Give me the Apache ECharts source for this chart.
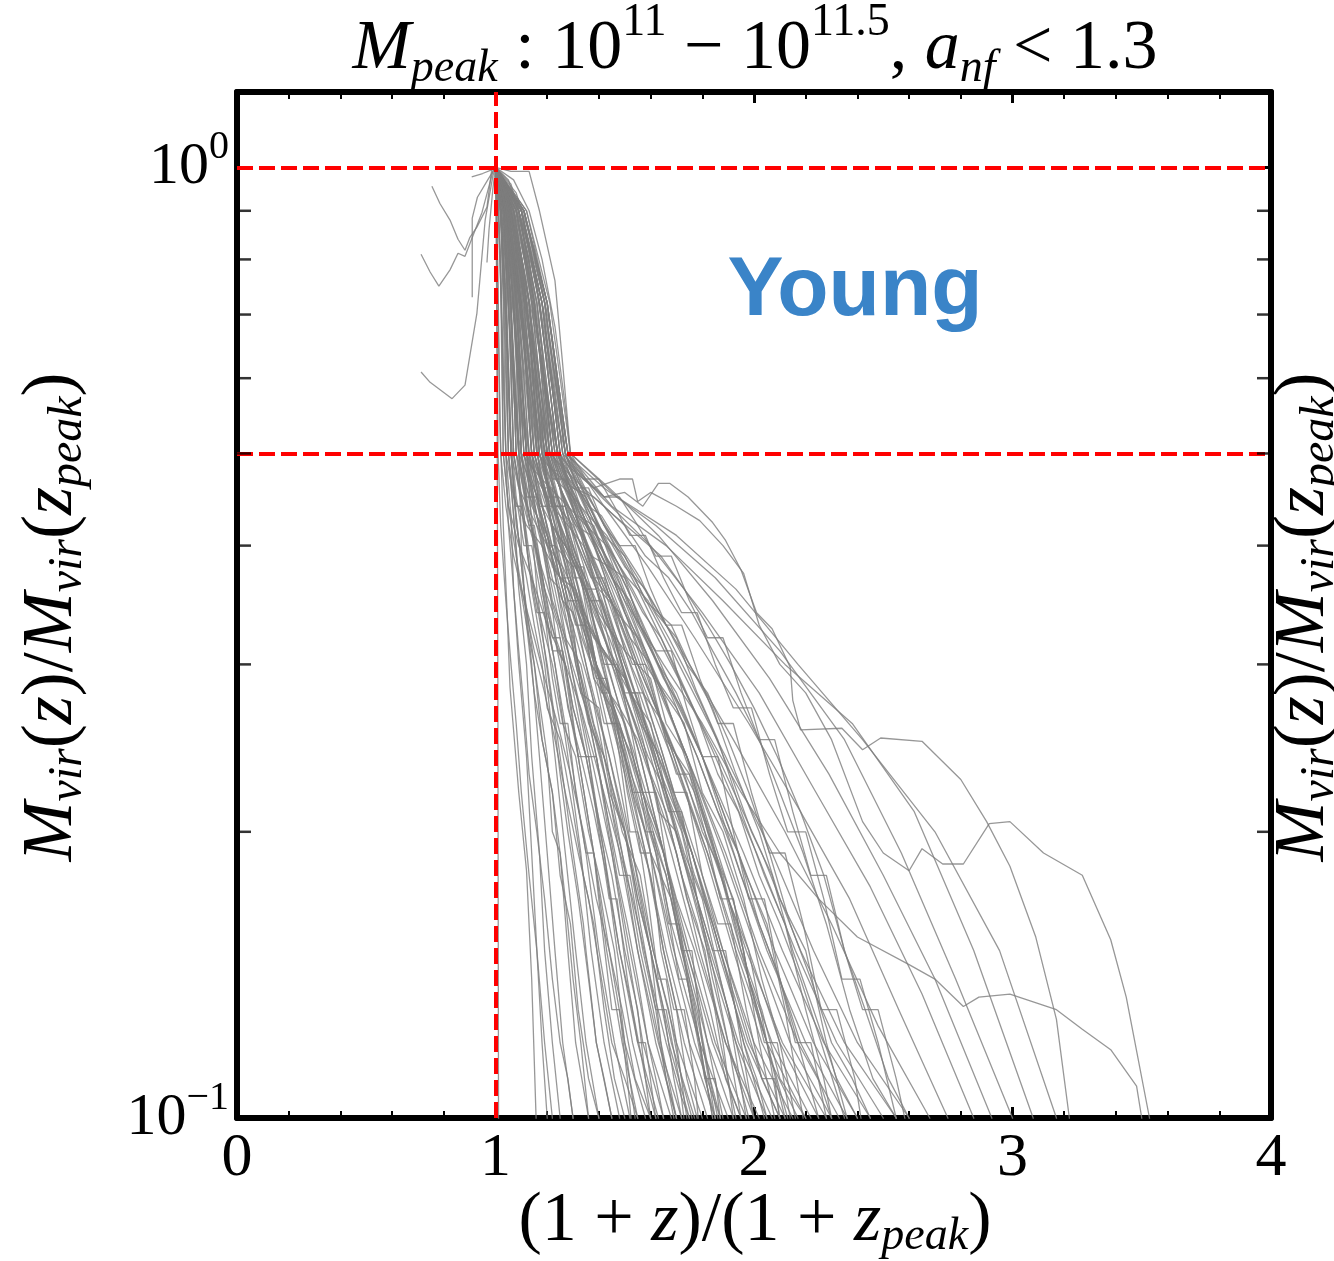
<!DOCTYPE html>
<html><head><meta charset="utf-8">
<script src="https://cdn.jsdelivr.net/npm/echarts@6/dist/echarts.min.js"></script>
<style>html,body{margin:0;padding:0;background:#fff;overflow:hidden}#c{width:1334px;height:1261px}</style>
</head><body><div id="c"></div>
<script>
// ---- axis / reference values ----
const xRange = [0, 4];
const yRange = [0.1, 1.2];
const yMinorTicks = [0.2, 0.3, 0.4, 0.5, 0.6, 0.7, 0.8, 0.9];
const refLinesY = [1, 0.5];
const refLinesX = [1];

// ---- curves: [x, y] with x=(1+z)/(1+z_peak), y=Mvir(z)/Mvir(z_peak) ----
const leftBranches = [
  [[0.754,0.955],[0.785,0.916],[0.824,0.88],[0.855,0.84],[0.882,0.818],[0.901,0.844],[0.928,0.865],[0.967,0.908],[0.986,0.998],[1,1]],
  [[0.712,0.81],[0.747,0.776],[0.781,0.75],[0.824,0.78],[0.855,0.812],[0.882,0.806],[0.948,0.897],[0.99,0.99],[1,1]],
  [[0.712,0.609],[0.747,0.594],[0.832,0.571],[0.882,0.59],[0.928,0.702],[0.96,0.88],[0.99,0.98],[1,1]],
  [[0.91,0.73],[0.91,0.884],[0.93,0.93],[0.97,0.97],[1,1]],
  [[0.967,0.794],[0.975,0.86],[0.99,0.95],[1,1]],
  [[0.908,0.977],[0.95,0.985],[0.99,0.995],[1,1]]
];

const steepCurves = [
  [[1,1],[1.003,0.85],[1.006,0.6],[1.009,0.3],[1.012,0.09]],
  [[1,1],[1.005,0.9],[1.01,0.7],[1.017,0.54],[1.03,0.42],[1.045,0.34],[1.056,0.284],[1.09,0.22],[1.12,0.182],[1.14,0.14],[1.157,0.1],[1.16,0.085]],
  [[1,1],[1.02,0.9],[1.03,0.72],[1.04,0.5],[1.06,0.43],[1.07,0.36],[1.09,0.3],[1.12,0.24],[1.14,0.19],[1.16,0.15],[1.18,0.12],[1.2,0.1],[1.21,0.08]],
  [[1,1],[1.02,0.9],[1.035,0.72],[1.05,0.5],[1.07,0.43],[1.09,0.36],[1.12,0.3],[1.14,0.24],[1.17,0.19],[1.19,0.15],[1.22,0.12],[1.25,0.1],[1.26,0.08]],
  [[1,1],[1.02,0.9],[1.04,0.72],[1.06,0.5],[1.08,0.43],[1.11,0.36],[1.14,0.3],[1.17,0.24],[1.2,0.19],[1.23,0.15],[1.26,0.12],[1.3,0.1],[1.31,0.08]],
  [[1,1],[1.02,0.9],[1.04,0.72],[1.05,0.5],[1.08,0.43],[1.11,0.36],[1.15,0.3],[1.2,0.24],[1.22,0.2],[1.25,0.19],[1.28,0.15],[1.31,0.12],[1.36,0.1],[1.37,0.08]],
  [[1,1],[1.03,0.9],[1.06,0.72],[1.08,0.5],[1.11,0.43],[1.14,0.36],[1.19,0.3],[1.23,0.24],[1.27,0.19],[1.31,0.15],[1.35,0.12],[1.4,0.1],[1.41,0.08]],
  [[1,1],[1.03,0.9],[1.05,0.72],[1.07,0.5],[1.11,0.43],[1.15,0.36],[1.2,0.3],[1.25,0.24],[1.3,0.19],[1.34,0.16],[1.35,0.15],[1.39,0.12],[1.45,0.1],[1.46,0.08]],
  [[1,1],[1.04,0.9],[1.07,0.72],[1.1,0.5],[1.14,0.43],[1.18,0.36],[1.23,0.3],[1.28,0.24],[1.33,0.19],[1.37,0.15],[1.42,0.12],[1.48,0.1],[1.49,0.08]],
  [[1,1],[1.04,0.9],[1.06,0.72],[1.09,0.5],[1.13,0.43],[1.18,0.36],[1.23,0.3],[1.29,0.24],[1.35,0.19],[1.4,0.15],[1.46,0.12],[1.52,0.1],[1.53,0.08]],
  [[1,1],[1.05,0.9],[1.08,0.72],[1.12,0.5],[1.16,0.43],[1.21,0.36],[1.24,0.31],[1.27,0.3],[1.32,0.24],[1.38,0.19],[1.43,0.15],[1.49,0.12],[1.55,0.1],[1.56,0.08]],
  [[1,1],[1.03,0.9],[1.06,0.72],[1.08,0.5],[1.13,0.43],[1.19,0.36],[1.25,0.3],[1.32,0.24],[1.38,0.19],[1.44,0.15],[1.5,0.12],[1.58,0.1],[1.59,0.08]],
  [[1,1],[1.06,0.9],[1.1,0.72],[1.14,0.5],[1.19,0.43],[1.24,0.36],[1.29,0.3],[1.36,0.24],[1.42,0.19],[1.47,0.15],[1.53,0.12],[1.6,0.1],[1.61,0.08]],
  [[1,1],[1.04,0.9],[1.08,0.72],[1.11,0.5],[1.16,0.43],[1.22,0.36],[1.28,0.3],[1.35,0.24],[1.42,0.19],[1.48,0.15],[1.55,0.12],[1.63,0.1],[1.64,0.08]]
];

const bundleCurves = [
  [[1,1],[1.06,0.9],[1.11,0.72],[1.16,0.5],[1.21,0.43],[1.27,0.36],[1.32,0.3],[1.39,0.24],[1.45,0.19],[1.51,0.15],[1.57,0.12],[1.65,0.1],[1.66,0.08]],
  [[1,1],[1.04,0.9],[1.07,0.72],[1.1,0.5],[1.16,0.43],[1.23,0.36],[1.29,0.3],[1.37,0.24],[1.45,0.19],[1.52,0.15],[1.59,0.12],[1.68,0.1],[1.69,0.08]],
  [[1,1],[1.07,0.9],[1.13,0.72],[1.18,0.5],[1.23,0.43],[1.29,0.36],[1.35,0.3],[1.42,0.24],[1.49,0.19],[1.55,0.15],[1.62,0.12],[1.7,0.1],[1.71,0.08]],
  [[1,1],[1.05,0.9],[1.09,0.72],[1.13,0.5],[1.19,0.43],[1.26,0.36],[1.32,0.3],[1.41,0.24],[1.48,0.19],[1.55,0.15],[1.63,0.12],[1.72,0.1],[1.73,0.08]],
  [[1,1],[1.08,0.9],[1.14,0.72],[1.2,0.5],[1.26,0.43],[1.32,0.36],[1.38,0.3],[1.46,0.24],[1.53,0.19],[1.6,0.15],[1.67,0.12],[1.75,0.1],[1.76,0.08]],
  [[1,1],[1.06,0.9],[1.1,0.72],[1.15,0.5],[1.21,0.43],[1.28,0.36],[1.35,0.3],[1.44,0.24],[1.52,0.19],[1.6,0.15],[1.68,0.12],[1.77,0.1],[1.78,0.08]],
  [[1,1],[1.05,0.9],[1.08,0.72],[1.12,0.5],[1.19,0.43],[1.26,0.36],[1.34,0.3],[1.44,0.24],[1.53,0.19],[1.61,0.15],[1.7,0.12],[1.8,0.1],[1.81,0.08]],
  [[1,1],[1.09,0.9],[1.16,0.72],[1.22,0.5],[1.28,0.43],[1.35,0.36],[1.42,0.3],[1.5,0.24],[1.58,0.19],[1.65,0.15],[1.73,0.12],[1.82,0.1],[1.83,0.08]],
  [[1,1],[1.07,0.9],[1.12,0.72],[1.17,0.5],[1.24,0.43],[1.32,0.36],[1.39,0.3],[1.49,0.24],[1.58,0.19],[1.66,0.15],[1.75,0.12],[1.85,0.1],[1.86,0.08]],
  [[1,1],[1.07,0.9],[1.13,0.72],[1.19,0.5],[1.26,0.43],[1.34,0.36],[1.41,0.3],[1.51,0.24],[1.6,0.19],[1.68,0.15],[1.77,0.12],[1.87,0.1],[1.88,0.08]],
  [[1,1],[1.05,0.9],[1.1,0.72],[1.14,0.5],[1.22,0.43],[1.31,0.36],[1.39,0.3],[1.5,0.24],[1.6,0.19],[1.69,0.15],[1.79,0.12],[1.9,0.1],[1.91,0.08]],
  [[1,1],[1.1,0.9],[1.17,0.72],[1.24,0.5],[1.31,0.43],[1.39,0.36],[1.46,0.3],[1.56,0.24],[1.65,0.19],[1.73,0.15],[1.82,0.12],[1.92,0.1],[1.93,0.08]],
  [[1,1],[1.08,0.9],[1.15,0.72],[1.21,0.5],[1.28,0.43],[1.37,0.36],[1.45,0.3],[1.56,0.24],[1.65,0.19],[1.74,0.15],[1.84,0.12],[1.95,0.1],[1.96,0.08]],
  [[1,1],[1.06,0.9],[1.11,0.72],[1.16,0.5],[1.24,0.43],[1.34,0.36],[1.43,0.3],[1.54,0.24],[1.65,0.19],[1.75,0.15],[1.85,0.12],[1.97,0.1],[1.98,0.08]],
  [[1,1],[1.1,0.9],[1.18,0.72],[1.25,0.5],[1.32,0.43],[1.41,0.36],[1.49,0.3],[1.6,0.24],[1.7,0.19],[1.79,0.15],[1.89,0.12],[2.0,0.1],[2.01,0.08]],
  [[1,1],[1.07,0.9],[1.13,0.72],[1.18,0.5],[1.26,0.43],[1.36,0.36],[1.46,0.3],[1.58,0.24],[1.68,0.19],[1.78,0.15],[1.89,0.12],[2.02,0.1],[2.03,0.08]],
  [[1,1],[1.09,0.9],[1.16,0.72],[1.23,0.5],[1.31,0.43],[1.41,0.36],[1.5,0.3],[1.62,0.24],[1.72,0.19],[1.82,0.15],[1.93,0.12],[2.05,0.1],[2.06,0.08]],
  [[1,1],[1.08,0.9],[1.14,0.72],[1.2,0.5],[1.29,0.43],[1.39,0.36],[1.49,0.3],[1.61,0.24],[1.72,0.19],[1.83,0.15],[1.94,0.12],[2.07,0.1],[2.08,0.08]],
  [[1,1],[1.1,0.9],[1.18,0.72],[1.26,0.5],[1.34,0.43],[1.44,0.36],[1.54,0.3],[1.65,0.24],[1.76,0.19],[1.86,0.15],[1.97,0.12],[2.1,0.1],[2.11,0.08]],
  [[1,1],[1.09,0.9],[1.15,0.72],[1.22,0.5],[1.31,0.43],[1.42,0.36],[1.52,0.3],[1.64,0.24],[1.76,0.19],[1.87,0.15],[1.98,0.12],[2.12,0.1],[2.13,0.08]],
  [[1,1],[1.06,0.9],[1.12,0.72],[1.17,0.5],[1.27,0.43],[1.39,0.36],[1.5,0.3],[1.63,0.24],[1.76,0.19],[1.88,0.15],[2.0,0.12],[2.15,0.1],[2.16,0.08]],
  [[1,1],[1.11,0.9],[1.19,0.72],[1.27,0.5],[1.36,0.43],[1.47,0.36],[1.57,0.3],[1.69,0.24],[1.81,0.19],[1.92,0.15],[2.03,0.12],[2.17,0.1],[2.18,0.08]],
  [[1,1],[1.1,0.9],[1.17,0.72],[1.24,0.5],[1.34,0.43],[1.45,0.36],[1.56,0.3],[1.69,0.24],[1.82,0.19],[1.93,0.15],[2.05,0.12],[2.2,0.1],[2.21,0.08]],
  [[1,1],[1.08,0.9],[1.15,0.72],[1.21,0.5],[1.31,0.43],[1.43,0.36],[1.54,0.3],[1.68,0.24],[1.82,0.19],[1.94,0.15],[2.07,0.12],[2.22,0.1],[2.23,0.08]],
  [[1,1],[1.11,0.9],[1.2,0.72],[1.28,0.5],[1.38,0.43],[1.49,0.36],[1.6,0.3],[1.74,0.24],[1.86,0.19],[1.98,0.15],[2.1,0.12],[2.25,0.1],[2.26,0.08]],
  [[1,1],[1.07,0.9],[1.13,0.72],[1.19,0.5],[1.3,0.43],[1.43,0.36],[1.55,0.3],[1.7,0.24],[1.84,0.19],[1.97,0.15],[2.11,0.12],[2.28,0.1],[2.29,0.08]],
  [[1,1],[1.1,0.9],[1.18,0.72],[1.25,0.5],[1.36,0.43],[1.48,0.36],[1.6,0.3],[1.74,0.24],[1.88,0.19],[2.01,0.15],[2.14,0.12],[2.3,0.1],[2.31,0.08]],
  [[1,1],[1.09,0.9],[1.16,0.72],[1.23,0.5],[1.34,0.43],[1.47,0.36],[1.59,0.3],[1.74,0.24],[1.89,0.19],[2.02,0.15],[2.17,0.12],[2.33,0.1],[2.34,0.08]],
  [[1,1],[1.11,0.9],[1.19,0.72],[1.27,0.5],[1.38,0.43],[1.51,0.36],[1.63,0.3],[1.78,0.24],[1.92,0.19],[2.05,0.15],[2.2,0.12],[2.36,0.1],[2.37,0.08]],
  [[1,1],[1.1,0.9],[1.18,0.72],[1.26,0.5],[1.37,0.43],[1.51,0.36],[1.64,0.3],[1.8,0.24],[1.94,0.19],[2.08,0.15],[2.23,0.12],[2.4,0.1],[2.41,0.08]],
  [[1,1],[1.09,0.9],[1.15,0.72],[1.22,0.5],[1.35,0.43],[1.49,0.36],[1.63,0.3],[1.8,0.24],[1.96,0.19],[2.11,0.15],[2.27,0.12],[2.45,0.1],[2.46,0.08]],
  [[1,1],[1.11,0.9],[1.2,0.72],[1.28,0.5],[1.4,0.43],[1.55,0.36],[1.69,0.3],[1.85,0.24],[2.01,0.19],[2.16,0.15],[2.32,0.12],[2.5,0.1],[2.51,0.08]],
  [[1,1],[1.1,0.9],[1.17,0.72],[1.24,0.5],[1.37,0.43],[1.53,0.36],[1.68,0.3],[1.86,0.24],[2.03,0.19],[2.18,0.15],[2.35,0.12],[2.55,0.1],[2.56,0.08]],
  [[1,1],[1.11,0.9],[1.19,0.72],[1.27,0.5],[1.4,0.43],[1.56,0.36],[1.71,0.3],[1.89,0.24],[2.07,0.19],[2.23,0.15],[2.4,0.12],[2.6,0.1],[2.61,0.08]]
];

const farCurves = [
  [[1,1],[1.1,0.9],[1.18,0.72],[1.25,0.5],[1.38,0.44],[1.55,0.37],[1.72,0.31],[1.92,0.25],[2.12,0.2],[2.3,0.16],[2.48,0.125],[2.68,0.1],[2.69,0.08]],
  [[1,1],[1.11,0.9],[1.2,0.72],[1.28,0.5],[1.42,0.44],[1.59,0.38],[1.77,0.32],[1.98,0.26],[2.18,0.21],[2.37,0.17],[2.56,0.13],[2.75,0.1],[2.76,0.08]],
  [[1,1],[1.1,0.9],[1.19,0.72],[1.26,0.5],[1.41,0.45],[1.6,0.4],[1.8,0.34],[2.02,0.28],[2.24,0.22],[2.45,0.175],[2.65,0.135],[2.85,0.1],[2.86,0.08]],
  [[1,1],[1.12,0.9],[1.21,0.72],[1.29,0.5],[1.44,0.46],[1.63,0.41],[1.84,0.35],[2.06,0.29],[2.29,0.23],[2.5,0.18],[2.7,0.14],[2.92,0.1],[2.93,0.08]],
  [[1,1],[1.11,0.9],[1.2,0.72],[1.27,0.5],[1.42,0.46],[1.62,0.42],[1.85,0.37],[2.1,0.31],[2.35,0.25],[2.57,0.19],[2.78,0.14],[3.0,0.1],[3.01,0.08]],
  [[1,1],[1.12,0.9],[1.2,0.72],[1.28,0.5],[1.45,0.44],[1.66,0.4],[1.88,0.35],[2.12,0.3],[2.38,0.26],[2.62,0.21],[2.85,0.15],[3.08,0.1],[3.09,0.08]],
  [[1,1],[1.06,0.99],[1.13,0.99],[1.17,0.9],[1.23,0.76],[1.26,0.62],[1.29,0.5],[1.47,0.45],[1.7,0.41],[1.93,0.36],[2.17,0.3],[2.42,0.25],[2.7,0.2],[2.95,0.15],[3.17,0.1],[3.18,0.08]],
  [[1,1],[1.05,0.97],[1.12,0.85],[1.19,0.7],[1.24,0.58],[1.28,0.5],[1.34,0.47],[1.42,0.45],[1.5,0.455],[1.57,0.44],[1.63,0.465],[1.675,0.465],[1.745,0.45],[1.84,0.423],[1.89,0.405],[1.95,0.377],[2.01,0.34],[2.07,0.327],[2.14,0.298],[2.15,0.275],[2.18,0.256],[2.34,0.257],[2.42,0.244],[2.49,0.251],[2.65,0.249],[2.8,0.227],[2.9,0.205],[2.99,0.184],[3.09,0.155],[3.17,0.127],[3.22,0.1],[3.23,0.08]],
  [[1,1],[1.04,0.95],[1.1,0.8],[1.17,0.64],[1.24,0.5],[1.3,0.48],[1.38,0.46],[1.48,0.47],[1.53,0.47],[1.55,0.445],[1.6,0.455],[1.7,0.44],[1.79,0.425],[1.88,0.4],[1.96,0.374],[2.02,0.33],[2.1,0.3],[2.2,0.28],[2.3,0.25],[2.42,0.205],[2.5,0.19],[2.6,0.182],[2.65,0.192],[2.73,0.185],[2.81,0.185],[2.91,0.204],[2.99,0.205],[3.12,0.19],[3.27,0.18],[3.38,0.154],[3.44,0.134],[3.53,0.1],[3.54,0.08]],
  [[1,1],[1.08,0.9],[1.15,0.72],[1.22,0.5],[1.35,0.42],[1.5,0.35],[1.65,0.3],[1.8,0.26],[1.95,0.22],[2.1,0.19],[2.25,0.17],[2.4,0.155],[2.6,0.145],[2.7,0.14],[2.81,0.131],[2.87,0.134],[2.99,0.135],[3.17,0.13],[3.27,0.124],[3.38,0.118],[3.48,0.108],[3.5,0.1],[3.51,0.08]]
];

const jaggedCurves = [
  [[1,1],[1.03,0.93],[1.06,0.8],[1.09,0.62],[1.11,0.5],[1.14,0.44],[1.2,0.41],[1.24,0.36],[1.3,0.33],[1.33,0.28],[1.4,0.27],[1.45,0.22],[1.5,0.2],[1.55,0.17],[1.6,0.15],[1.64,0.12],[1.7,0.1],[1.71,0.08]],
  [[1,1],[1.04,0.92],[1.08,0.78],[1.12,0.6],[1.15,0.5],[1.2,0.45],[1.23,0.4],[1.3,0.38],[1.36,0.33],[1.4,0.29],[1.48,0.27],[1.55,0.23],[1.6,0.19],[1.68,0.17],[1.75,0.14],[1.8,0.12],[1.86,0.1],[1.87,0.08]],
  [[1,1],[1.02,0.95],[1.05,0.82],[1.08,0.66],[1.13,0.5],[1.17,0.43],[1.21,0.37],[1.25,0.36],[1.3,0.31],[1.36,0.26],[1.42,0.24],[1.5,0.2],[1.56,0.16],[1.62,0.13],[1.66,0.11],[1.69,0.1],[1.7,0.08]],
  [[1,1],[1.05,0.91],[1.1,0.76],[1.15,0.6],[1.19,0.5],[1.25,0.46],[1.31,0.42],[1.37,0.41],[1.44,0.36],[1.52,0.32],[1.6,0.3],[1.66,0.26],[1.74,0.24],[1.82,0.2],[1.9,0.17],[1.96,0.15],[2.02,0.12],[2.08,0.1],[2.09,0.08]],
  [[1,1],[1.04,0.9],[1.09,0.74],[1.14,0.58],[1.18,0.5],[1.22,0.44],[1.27,0.4],[1.35,0.36],[1.41,0.31],[1.5,0.29],[1.57,0.25],[1.63,0.21],[1.7,0.2],[1.78,0.17],[1.85,0.14],[1.9,0.12],[1.95,0.1],[1.96,0.08]],
  [[1,1],[1.03,0.94],[1.07,0.8],[1.12,0.62],[1.16,0.5],[1.2,0.45],[1.26,0.39],[1.32,0.35],[1.35,0.33],[1.42,0.31],[1.48,0.27],[1.55,0.25],[1.62,0.22],[1.7,0.19],[1.74,0.17],[1.81,0.15],[1.87,0.12],[1.93,0.1],[1.94,0.08]],
  [[1,1],[1.06,0.9],[1.12,0.75],[1.17,0.6],[1.21,0.5],[1.26,0.47],[1.34,0.43],[1.4,0.4],[1.48,0.37],[1.55,0.33],[1.63,0.3],[1.7,0.28],[1.8,0.24],[1.88,0.21],[1.97,0.18],[2.05,0.16],[2.12,0.13],[2.19,0.1],[2.2,0.08]],
  [[1,1],[1.05,0.92],[1.1,0.78],[1.16,0.6],[1.2,0.5],[1.24,0.44],[1.3,0.42],[1.38,0.37],[1.45,0.35],[1.5,0.31],[1.6,0.29],[1.66,0.25],[1.75,0.23],[1.83,0.2],[1.9,0.17],[1.98,0.15],[2.05,0.12],[2.1,0.1],[2.11,0.08]],
  [[1,1],[1.02,0.94],[1.05,0.8],[1.07,0.62],[1.09,0.5],[1.12,0.44],[1.16,0.4],[1.19,0.36],[1.24,0.33],[1.28,0.29],[1.3,0.27],[1.35,0.24],[1.41,0.2],[1.45,0.18],[1.5,0.15],[1.55,0.13],[1.58,0.11],[1.6,0.1],[1.61,0.08]],
  [[1,1],[1.06,0.92],[1.13,0.76],[1.19,0.6],[1.24,0.5],[1.3,0.46],[1.35,0.45],[1.42,0.41],[1.5,0.39],[1.58,0.35],[1.68,0.33],[1.75,0.3],[1.84,0.27],[1.93,0.23],[2.02,0.2],[2.1,0.17],[2.2,0.15],[2.28,0.12],[2.36,0.1],[2.37,0.08]],
  [[1,1],[1.04,0.93],[1.08,0.77],[1.12,0.62],[1.14,0.5],[1.18,0.42],[1.22,0.38],[1.28,0.36],[1.34,0.33],[1.38,0.29],[1.45,0.27],[1.5,0.24],[1.55,0.22],[1.62,0.19],[1.68,0.16],[1.74,0.14],[1.79,0.12],[1.84,0.1],[1.85,0.08]],
  [[1,1],[1.05,0.9],[1.1,0.74],[1.15,0.58],[1.17,0.5],[1.22,0.45],[1.28,0.41],[1.33,0.38],[1.4,0.34],[1.46,0.32],[1.52,0.28],[1.6,0.26],[1.66,0.22],[1.72,0.2],[1.78,0.17],[1.84,0.15],[1.9,0.13],[1.97,0.1],[1.98,0.08]],
  [[1,1],[1.03,0.92],[1.06,0.76],[1.09,0.6],[1.12,0.5],[1.15,0.43],[1.19,0.39],[1.22,0.35],[1.27,0.32],[1.33,0.3],[1.38,0.26],[1.44,0.23],[1.49,0.2],[1.56,0.18],[1.61,0.15],[1.67,0.13],[1.72,0.11],[1.76,0.1],[1.77,0.08]],
  [[1,1],[1.06,0.93],[1.12,0.79],[1.18,0.62],[1.23,0.5],[1.28,0.48],[1.36,0.44],[1.41,0.43],[1.48,0.4],[1.56,0.37],[1.62,0.34],[1.7,0.32],[1.78,0.28],[1.86,0.25],[1.95,0.21],[2.04,0.18],[2.12,0.16],[2.2,0.13],[2.27,0.11],[2.3,0.1],[2.31,0.08]],
  [[1,1],[1.05,0.91],[1.09,0.75],[1.14,0.6],[1.18,0.5],[1.23,0.42],[1.28,0.37],[1.33,0.34],[1.39,0.3],[1.44,0.28],[1.5,0.25],[1.56,0.22],[1.6,0.2],[1.66,0.18],[1.72,0.15],[1.78,0.13],[1.83,0.11],[1.87,0.1],[1.88,0.08]],
  [[1,1],[1.04,0.95],[1.09,0.8],[1.15,0.63],[1.2,0.5],[1.25,0.46],[1.3,0.43],[1.37,0.39],[1.44,0.38],[1.5,0.34],[1.58,0.31],[1.65,0.28],[1.73,0.26],[1.8,0.22],[1.88,0.2],[1.96,0.17],[2.03,0.14],[2.1,0.12],[2.16,0.1],[2.17,0.08]],
  [[1,1],[1.03,0.9],[1.05,0.72],[1.07,0.58],[1.09,0.5],[1.1,0.4],[1.12,0.33],[1.15,0.3],[1.18,0.25],[1.22,0.22],[1.25,0.19],[1.27,0.17],[1.3,0.14],[1.33,0.12],[1.36,0.1],[1.37,0.08]],
  [[1,1],[1.02,0.93],[1.04,0.8],[1.06,0.64],[1.07,0.5],[1.1,0.44],[1.13,0.38],[1.17,0.34],[1.22,0.3],[1.26,0.26],[1.31,0.24],[1.36,0.2],[1.4,0.18],[1.46,0.15],[1.5,0.12],[1.54,0.1],[1.55,0.08]],
  [[1,1],[1.05,0.92],[1.11,0.76],[1.16,0.62],[1.21,0.5],[1.27,0.44],[1.33,0.41],[1.4,0.36],[1.48,0.34],[1.55,0.3],[1.62,0.27],[1.7,0.24],[1.77,0.22],[1.85,0.19],[1.92,0.16],[1.98,0.14],[2.05,0.12],[2.13,0.1],[2.14,0.08]],
  [[1,1],[1.04,0.93],[1.08,0.78],[1.13,0.62],[1.17,0.5],[1.21,0.45],[1.25,0.42],[1.32,0.38],[1.37,0.35],[1.44,0.32],[1.5,0.29],[1.56,0.26],[1.64,0.24],[1.7,0.21],[1.76,0.19],[1.84,0.16],[1.9,0.14],[1.96,0.12],[2.04,0.1],[2.05,0.08]]
];

const crossCurves = [
  [[1,1],[1.01,0.93],[1.02,0.8],[1.025,0.65],[1.03,0.5],[1.05,0.44],[1.09,0.4],[1.14,0.37],[1.2,0.33],[1.27,0.3],[1.33,0.27],[1.4,0.23],[1.46,0.2],[1.53,0.17],[1.6,0.14],[1.66,0.12],[1.72,0.105],[1.75,0.1],[1.76,0.08]],
  [[1,1],[1.01,0.92],[1.02,0.78],[1.03,0.62],[1.04,0.5],[1.07,0.45],[1.12,0.42],[1.18,0.4],[1.25,0.37],[1.31,0.36],[1.38,0.32],[1.46,0.3],[1.55,0.27],[1.63,0.24],[1.72,0.21],[1.8,0.18],[1.88,0.15],[1.95,0.13],[2.03,0.11],[2.1,0.1],[2.11,0.08]],
  [[1,1],[1.02,0.9],[1.04,0.74],[1.05,0.6],[1.06,0.5],[1.08,0.42],[1.12,0.37],[1.15,0.33],[1.18,0.3],[1.2,0.27],[1.25,0.25],[1.3,0.21],[1.34,0.18],[1.38,0.16],[1.42,0.13],[1.46,0.11],[1.5,0.1],[1.51,0.08]],
  [[1,1],[1.03,0.91],[1.05,0.76],[1.07,0.6],[1.08,0.5],[1.12,0.46],[1.16,0.43],[1.22,0.39],[1.26,0.35],[1.3,0.34],[1.37,0.3],[1.44,0.28],[1.5,0.25],[1.57,0.22],[1.63,0.2],[1.7,0.17],[1.77,0.15],[1.83,0.13],[1.89,0.11],[1.95,0.1],[1.96,0.08]],
  [[1,1],[1.04,0.88],[1.07,0.72],[1.09,0.58],[1.1,0.5],[1.13,0.43],[1.17,0.38],[1.2,0.34],[1.25,0.31],[1.28,0.27],[1.33,0.24],[1.38,0.21],[1.43,0.18],[1.48,0.15],[1.53,0.13],[1.58,0.11],[1.62,0.1],[1.63,0.08]],
  [[1,1],[1.04,0.93],[1.07,0.8],[1.1,0.64],[1.12,0.5],[1.16,0.47],[1.22,0.44],[1.28,0.42],[1.34,0.4],[1.4,0.37],[1.47,0.34],[1.55,0.32],[1.62,0.29],[1.7,0.27],[1.78,0.24],[1.86,0.21],[1.94,0.19],[2.02,0.16],[2.1,0.14],[2.18,0.12],[2.25,0.11],[2.3,0.1],[2.31,0.08]],
  [[1,1],[1.02,0.9],[1.03,0.75],[1.04,0.6],[1.05,0.5],[1.07,0.43],[1.09,0.37],[1.12,0.33],[1.15,0.28],[1.18,0.25],[1.22,0.22],[1.25,0.18],[1.29,0.16],[1.32,0.13],[1.36,0.11],[1.4,0.1],[1.41,0.08]],
  [[1,1],[1.05,0.92],[1.09,0.78],[1.13,0.62],[1.15,0.5],[1.19,0.45],[1.23,0.41],[1.29,0.38],[1.33,0.34],[1.39,0.32],[1.44,0.28],[1.5,0.26],[1.55,0.23],[1.61,0.2],[1.66,0.18],[1.72,0.15],[1.77,0.13],[1.81,0.11],[1.85,0.1],[1.86,0.08]],
  [[1,1],[1.005,0.9],[1.01,0.75],[1.015,0.6],[1.02,0.5],[1.04,0.44],[1.07,0.39],[1.1,0.36],[1.15,0.32],[1.19,0.29],[1.24,0.26],[1.29,0.23],[1.34,0.2],[1.39,0.17],[1.44,0.15],[1.49,0.13],[1.54,0.11],[1.6,0.1],[1.61,0.08]],
  [[1,1],[1.06,0.91],[1.11,0.76],[1.15,0.62],[1.18,0.5],[1.23,0.47],[1.3,0.45],[1.36,0.43],[1.43,0.41],[1.5,0.38],[1.58,0.36],[1.66,0.33],[1.74,0.3],[1.82,0.28],[1.9,0.25],[1.98,0.22],[2.06,0.19],[2.14,0.16],[2.22,0.14],[2.3,0.12],[2.38,0.11],[2.45,0.1],[2.46,0.08]],
  [[1,1],[1.03,0.9],[1.05,0.74],[1.06,0.6],[1.07,0.5],[1.1,0.45],[1.14,0.41],[1.19,0.37],[1.23,0.34],[1.28,0.31],[1.33,0.28],[1.39,0.25],[1.44,0.22],[1.5,0.2],[1.55,0.17],[1.6,0.15],[1.65,0.13],[1.69,0.11],[1.72,0.1],[1.73,0.08]],
  [[1,1],[1.04,0.9],[1.08,0.74],[1.11,0.6],[1.13,0.5],[1.17,0.46],[1.22,0.42],[1.27,0.4],[1.33,0.37],[1.38,0.34],[1.44,0.31],[1.5,0.29],[1.57,0.26],[1.64,0.23],[1.7,0.21],[1.77,0.18],[1.84,0.16],[1.9,0.14],[1.96,0.12],[2.01,0.11],[2.05,0.1],[2.06,0.08]],
  [[1,1],[1.07,0.93],[1.13,0.8],[1.17,0.64],[1.2,0.5],[1.23,0.44],[1.27,0.39],[1.31,0.35],[1.35,0.32],[1.4,0.29],[1.45,0.26],[1.5,0.23],[1.55,0.2],[1.6,0.18],[1.65,0.15],[1.7,0.13],[1.74,0.11],[1.78,0.1],[1.79,0.08]],
  [[1,1],[1.03,0.92],[1.06,0.78],[1.08,0.62],[1.09,0.5],[1.13,0.47],[1.18,0.44],[1.24,0.41],[1.3,0.39],[1.37,0.36],[1.43,0.33],[1.5,0.31],[1.57,0.28],[1.65,0.26],[1.73,0.23],[1.8,0.2],[1.88,0.18],[1.95,0.15],[2.03,0.13],[2.1,0.11],[2.2,0.1],[2.21,0.08]],
  [[1,1],[1.08,0.92],[1.15,0.78],[1.21,0.62],[1.25,0.5],[1.29,0.45],[1.34,0.41],[1.38,0.37],[1.43,0.34],[1.49,0.31],[1.54,0.28],[1.6,0.25],[1.66,0.22],[1.72,0.19],[1.78,0.17],[1.84,0.14],[1.9,0.12],[1.94,0.11],[1.98,0.1],[1.99,0.08]],
  [[1,1],[1.01,0.9],[1.02,0.75],[1.03,0.6],[1.04,0.5],[1.05,0.42],[1.07,0.36],[1.09,0.31],[1.11,0.27],[1.13,0.23],[1.16,0.2],[1.19,0.17],[1.22,0.14],[1.25,0.12],[1.28,0.11],[1.3,0.1],[1.31,0.08]],
  [[1,1],[1.05,0.93],[1.1,0.8],[1.14,0.64],[1.16,0.5],[1.22,0.48],[1.3,0.46],[1.38,0.45],[1.46,0.43],[1.55,0.41],[1.64,0.39],[1.73,0.36],[1.82,0.33],[1.91,0.3],[2.0,0.27],[2.09,0.24],[2.18,0.21],[2.27,0.18],[2.35,0.15],[2.43,0.13],[2.52,0.11],[2.6,0.1],[2.61,0.08]],
  [[1,1],[1.04,0.91],[1.07,0.76],[1.09,0.6],[1.11,0.5],[1.15,0.45],[1.2,0.41],[1.25,0.38],[1.3,0.35],[1.35,0.32],[1.41,0.29],[1.47,0.26],[1.53,0.24],[1.59,0.21],[1.65,0.19],[1.71,0.16],[1.77,0.14],[1.82,0.12],[1.88,0.1],[1.89,0.08]],
  [[1,1],[1.07,0.92],[1.13,0.78],[1.18,0.62],[1.22,0.5],[1.27,0.46],[1.33,0.43],[1.39,0.4],[1.45,0.37],[1.52,0.35],[1.58,0.32],[1.65,0.29],[1.72,0.27],[1.8,0.24],[1.87,0.21],[1.95,0.18],[2.02,0.16],[2.1,0.14],[2.17,0.12],[2.25,0.1],[2.26,0.08]],
  [[1,1],[1.01,0.91],[1.02,0.76],[1.025,0.6],[1.03,0.5],[1.05,0.44],[1.08,0.39],[1.11,0.35],[1.15,0.31],[1.19,0.28],[1.23,0.25],[1.27,0.22],[1.32,0.19],[1.36,0.17],[1.41,0.14],[1.45,0.12],[1.5,0.11],[1.55,0.1],[1.56,0.08]],
  [[1,1],[1.05,0.9],[1.09,0.75],[1.12,0.6],[1.14,0.5],[1.17,0.44],[1.21,0.4],[1.25,0.35],[1.29,0.32],[1.33,0.29],[1.37,0.26],[1.42,0.23],[1.47,0.2],[1.51,0.18],[1.56,0.15],[1.61,0.13],[1.66,0.11],[1.7,0.1],[1.71,0.08]],
  [[1,1],[1.08,0.94],[1.15,0.82],[1.22,0.66],[1.27,0.5],[1.32,0.46],[1.38,0.43],[1.44,0.4],[1.5,0.37],[1.57,0.34],[1.64,0.32],[1.71,0.29],[1.79,0.26],[1.86,0.23],[1.94,0.21],[2.02,0.18],[2.1,0.16],[2.18,0.14],[2.26,0.12],[2.35,0.1],[2.36,0.08]],
  [[1,1],[1.02,0.92],[1.04,0.78],[1.05,0.62],[1.06,0.5],[1.09,0.46],[1.14,0.43],[1.2,0.4],[1.26,0.38],[1.32,0.35],[1.39,0.32],[1.45,0.3],[1.52,0.27],[1.59,0.24],[1.66,0.22],[1.73,0.19],[1.8,0.17],[1.87,0.14],[1.93,0.12],[2.0,0.1],[2.01,0.08]],
  [[1,1],[1.06,0.91],[1.12,0.76],[1.16,0.62],[1.19,0.5],[1.21,0.43],[1.24,0.38],[1.28,0.34],[1.31,0.3],[1.35,0.27],[1.39,0.24],[1.43,0.21],[1.47,0.18],[1.51,0.16],[1.55,0.14],[1.59,0.12],[1.62,0.11],[1.65,0.1],[1.66,0.08]],
  [[1,1],[1.04,0.93],[1.07,0.8],[1.09,0.64],[1.1,0.5],[1.15,0.48],[1.21,0.46],[1.28,0.44],[1.35,0.42],[1.43,0.4],[1.51,0.37],[1.59,0.35],[1.67,0.32],[1.75,0.29],[1.83,0.26],[1.91,0.23],[1.99,0.2],[2.07,0.18],[2.15,0.15],[2.23,0.13],[2.32,0.11],[2.4,0.1],[2.41,0.08]],
  [[1,1],[1.06,0.92],[1.11,0.78],[1.14,0.62],[1.17,0.5],[1.21,0.45],[1.26,0.41],[1.31,0.38],[1.37,0.35],[1.42,0.32],[1.48,0.29],[1.54,0.26],[1.6,0.23],[1.66,0.21],[1.72,0.18],[1.78,0.16],[1.83,0.14],[1.88,0.12],[1.92,0.1],[1.93,0.08]],
  [[1,1],[1.08,0.92],[1.15,0.78],[1.2,0.62],[1.24,0.5],[1.29,0.46],[1.34,0.42],[1.4,0.39],[1.46,0.36],[1.52,0.33],[1.58,0.3],[1.65,0.28],[1.71,0.25],[1.78,0.22],[1.85,0.19],[1.92,0.17],[1.98,0.14],[2.05,0.12],[2.12,0.1],[2.13,0.08]],
  [[1,1],[1.003,0.9],[1.006,0.7],[1.01,0.5],[1.02,0.42],[1.04,0.35],[1.06,0.3],[1.08,0.26],[1.1,0.22],[1.13,0.18],[1.16,0.15],[1.19,0.12],[1.22,0.1],[1.23,0.08]],
  [[1,1],[1.07,0.93],[1.13,0.8],[1.18,0.64],[1.21,0.5],[1.27,0.48],[1.34,0.46],[1.42,0.44],[1.5,0.42],[1.58,0.39],[1.67,0.37],[1.76,0.34],[1.84,0.31],[1.93,0.28],[2.02,0.25],[2.1,0.22],[2.19,0.19],[2.28,0.16],[2.37,0.13],[2.46,0.11],[2.55,0.1],[2.56,0.08]],
  [[1,1],[1.04,0.9],[1.08,0.75],[1.1,0.6],[1.12,0.5],[1.14,0.42],[1.16,0.36],[1.19,0.31],[1.22,0.27],[1.25,0.23],[1.28,0.2],[1.32,0.17],[1.36,0.14],[1.39,0.12],[1.42,0.11],[1.45,0.1],[1.46,0.08]]
];

const stepCurves = [
  [[1,1],[1.02,0.96],[1.05,0.85],[1.06,0.85],[1.09,0.7],[1.12,0.58],[1.14,0.5],[1.18,0.46],[1.22,0.46],[1.26,0.4],[1.3,0.38],[1.34,0.38],[1.38,0.33],[1.42,0.3],[1.47,0.3],[1.52,0.26],[1.57,0.22],[1.62,0.22],[1.67,0.18],[1.72,0.15],[1.76,0.15],[1.8,0.12],[1.85,0.1],[1.87,0.08]],
  [[1,1],[1.03,0.9],[1.05,0.78],[1.08,0.66],[1.1,0.56],[1.13,0.48],[1.17,0.44],[1.2,0.44],[1.24,0.39],[1.28,0.35],[1.33,0.35],[1.37,0.3],[1.42,0.26],[1.47,0.26],[1.51,0.22],[1.56,0.19],[1.6,0.19],[1.64,0.15],[1.69,0.13],[1.73,0.13],[1.77,0.11],[1.8,0.09]],
  [[1,1],[1.04,0.94],[1.08,0.82],[1.12,0.7],[1.15,0.6],[1.18,0.52],[1.22,0.47],[1.27,0.47],[1.32,0.43],[1.38,0.42],[1.44,0.38],[1.5,0.37],[1.56,0.33],[1.62,0.31],[1.68,0.31],[1.74,0.27],[1.8,0.24],[1.86,0.24],[1.92,0.2],[1.98,0.17],[2.04,0.17],[2.1,0.14],[2.16,0.12],[2.22,0.12],[2.28,0.1],[2.3,0.08]],
  [[1,1],[1.02,0.92],[1.04,0.78],[1.06,0.64],[1.08,0.55],[1.1,0.47],[1.13,0.42],[1.15,0.42],[1.19,0.36],[1.22,0.32],[1.25,0.32],[1.29,0.27],[1.32,0.24],[1.36,0.24],[1.4,0.2],[1.44,0.17],[1.47,0.17],[1.51,0.14],[1.55,0.12],[1.58,0.12],[1.62,0.1],[1.64,0.08]],
  [[1,1],[1.05,0.95],[1.1,0.84],[1.14,0.72],[1.18,0.62],[1.22,0.53],[1.26,0.48],[1.31,0.46],[1.36,0.46],[1.42,0.42],[1.48,0.4],[1.54,0.4],[1.6,0.36],[1.66,0.33],[1.72,0.33],[1.79,0.29],[1.86,0.26],[1.92,0.26],[1.99,0.22],[2.06,0.19],[2.12,0.19],[2.19,0.16],[2.26,0.13],[2.32,0.13],[2.39,0.11],[2.44,0.09]],
  [[1,1],[1.03,0.93],[1.06,0.8],[1.09,0.66],[1.11,0.55],[1.14,0.47],[1.18,0.43],[1.21,0.4],[1.23,0.4],[1.27,0.36],[1.31,0.33],[1.35,0.33],[1.4,0.29],[1.45,0.26],[1.48,0.26],[1.53,0.22],[1.58,0.2],[1.61,0.2],[1.66,0.17],[1.71,0.14],[1.74,0.14],[1.79,0.12],[1.84,0.1],[1.86,0.08]],
  [[1,1],[1.04,0.93],[1.07,0.82],[1.1,0.7],[1.13,0.59],[1.15,0.5],[1.19,0.45],[1.24,0.45],[1.29,0.4],[1.34,0.36],[1.39,0.36],[1.45,0.32],[1.5,0.28],[1.55,0.28],[1.61,0.24],[1.67,0.21],[1.72,0.21],[1.78,0.17],[1.84,0.15],[1.89,0.15],[1.95,0.12],[2.0,0.1],[2.03,0.08]],
  [[1,1],[1.01,0.94],[1.03,0.82],[1.04,0.7],[1.05,0.58],[1.06,0.5],[1.08,0.44],[1.1,0.44],[1.13,0.38],[1.16,0.34],[1.19,0.34],[1.22,0.29],[1.25,0.26],[1.28,0.26],[1.31,0.22],[1.35,0.19],[1.38,0.19],[1.41,0.16],[1.45,0.13],[1.48,0.13],[1.51,0.11],[1.54,0.09]],
  [[1,1],[1.06,0.96],[1.11,0.86],[1.16,0.74],[1.2,0.63],[1.24,0.54],[1.28,0.49],[1.34,0.47],[1.4,0.47],[1.46,0.44],[1.52,0.41],[1.58,0.41],[1.65,0.37],[1.72,0.34],[1.78,0.34],[1.85,0.3],[1.92,0.27],[1.99,0.27],[2.06,0.23],[2.13,0.2],[2.2,0.2],[2.27,0.17],[2.34,0.14],[2.41,0.14],[2.48,0.12],[2.55,0.1],[2.58,0.08]],
  [[1,1],[1.02,0.91],[1.05,0.77],[1.07,0.63],[1.09,0.52],[1.12,0.45],[1.16,0.45],[1.2,0.4],[1.25,0.37],[1.29,0.37],[1.34,0.32],[1.39,0.29],[1.43,0.29],[1.48,0.25],[1.53,0.22],[1.57,0.22],[1.62,0.19],[1.67,0.16],[1.71,0.16],[1.76,0.13],[1.81,0.11],[1.85,0.11],[1.89,0.09]],
  [[1,1],[1.05,0.92],[1.09,0.8],[1.13,0.67],[1.16,0.56],[1.19,0.49],[1.23,0.44],[1.27,0.44],[1.32,0.4],[1.37,0.37],[1.42,0.37],[1.47,0.33],[1.53,0.3],[1.58,0.3],[1.64,0.26],[1.7,0.23],[1.75,0.23],[1.81,0.2],[1.87,0.17],[1.92,0.17],[1.98,0.14],[2.04,0.12],[2.09,0.12],[2.14,0.1],[2.17,0.08]],
  [[1,1],[1.03,0.95],[1.07,0.86],[1.11,0.74],[1.15,0.62],[1.19,0.52],[1.22,0.48],[1.24,0.48],[1.27,0.42],[1.3,0.37],[1.33,0.37],[1.37,0.32],[1.41,0.28],[1.44,0.28],[1.48,0.24],[1.52,0.2],[1.55,0.2],[1.59,0.17],[1.63,0.14],[1.66,0.14],[1.7,0.12],[1.74,0.1],[1.76,0.08]],
  [[1,1],[1.07,0.97],[1.13,0.9],[1.18,0.8],[1.23,0.68],[1.27,0.56],[1.29,0.5],[1.35,0.47],[1.42,0.45],[1.48,0.45],[1.55,0.42],[1.62,0.39],[1.68,0.39],[1.75,0.35],[1.82,0.32],[1.88,0.32],[1.95,0.28],[2.02,0.25],[2.08,0.25],[2.15,0.21],[2.22,0.18],[2.28,0.18],[2.35,0.15],[2.42,0.13],[2.48,0.13],[2.55,0.11],[2.62,0.09]],
  [[1,1],[1.02,0.9],[1.03,0.76],[1.05,0.62],[1.06,0.52],[1.08,0.45],[1.11,0.4],[1.14,0.4],[1.18,0.35],[1.22,0.31],[1.26,0.31],[1.3,0.27],[1.35,0.24],[1.39,0.24],[1.43,0.21],[1.48,0.18],[1.52,0.18],[1.57,0.15],[1.62,0.13],[1.66,0.13],[1.71,0.11],[1.75,0.09]],
  [[1,1],[1.04,0.91],[1.08,0.78],[1.12,0.65],[1.15,0.55],[1.17,0.48],[1.21,0.44],[1.26,0.44],[1.31,0.39],[1.36,0.35],[1.41,0.35],[1.47,0.31],[1.52,0.28],[1.57,0.28],[1.63,0.25],[1.69,0.22],[1.74,0.22],[1.8,0.18],[1.86,0.16],[1.91,0.16],[1.97,0.13],[2.03,0.11],[2.08,0.11],[2.12,0.09]]
];

// ---- styles ----
const SERIF = 'Liberation Serif';
const lineColor = 'rgba(125,125,125,0.8)';
const allCurves = [].concat(leftBranches, steepCurves, bundleCurves, farCurves, jaggedCurves, crossCurves, stepCurves);

function mathRich(main, small, subLift) {
  return {
    mi: {fontFamily: SERIF, fontStyle: 'italic', fontSize: main, lineHeight: 100, verticalAlign: 'middle', color: '#000'},
    rm: {fontFamily: SERIF, fontSize: main, lineHeight: 100, verticalAlign: 'middle', color: '#000'},
    sub: {fontFamily: SERIF, fontStyle: 'italic', fontSize: small, verticalAlign: 'bottom', padding: [0, 0, subLift, 0], color: '#000'},
    sup: {fontFamily: SERIF, fontSize: small, verticalAlign: 'top', color: '#000'}
  };
}

const series = allCurves.map(c => ({
  type: 'line', data: c, showSymbol: false, symbol: 'none', silent: true,
  lineStyle: {color: lineColor, width: 1.3}, clip: true, z: 2
}));

series.push({
  type: 'scatter', silent: true, z: 6, symbol: 'rect', symbolSize: [14, 2.5], symbolOffset: [7, 0],
  itemStyle: {color: '#000'}, data: yMinorTicks.map(v => [xRange[0], v]), clip: false
});
series.push({
  type: 'scatter', silent: true, z: 6, symbol: 'rect', symbolSize: [14, 2.5], symbolOffset: [-7, 0],
  itemStyle: {color: '#000'}, data: yMinorTicks.map(v => [xRange[1], v]), clip: false
});
series.push({
  type: 'line', data: [], silent: true, z: 5,
  markLine: {
    silent: true, symbol: ['none', 'none'], animation: false,
    label: {show: false},
    lineStyle: {color: '#ff0000', width: 4, type: [16, 6], opacity: 1},
    data: refLinesY.map(v => ({yAxis: v})).concat(refLinesX.map(v => ({xAxis: v})))
  }
});

const axisLineStyle = {show: true, onZero: false, lineStyle: {color: '#000', width: 6}};
const yLabelText = '{mi|M}{sub|vir}{rm|(}{mi|z}{rm|)/}{mi|M}{sub|vir}{rm|(}{mi|z}{sub|peak}{rm|)}';

const option = {
  animation: false,
  backgroundColor: '#fff',
  grid: {left: 237, right: 63, top: 92, bottom: 143, containLabel: false, outerBoundsMode: 'none'},
  xAxis: [
    {type: 'value', position: 'bottom', min: xRange[0], max: xRange[1], interval: 1,
     axisLine: axisLineStyle,
     axisTick: {show: true, inside: true, length: 11, lineStyle: {color: '#000', width: 3}},
     minorTick: {show: true, splitNumber: 5, length: 7, lineStyle: {color: '#000', width: 2}},
     splitLine: {show: false}, minorSplitLine: {show: false},
     axisLabel: {margin: 10, fontFamily: SERIF, fontSize: 62, color: '#000'}
    },
    {type: 'value', position: 'top', min: xRange[0], max: xRange[1], interval: 1,
     axisLine: axisLineStyle,
     axisTick: {show: true, inside: true, length: 11, lineStyle: {color: '#000', width: 3}},
     minorTick: {show: true, splitNumber: 5, length: 7, lineStyle: {color: '#000', width: 2}},
     splitLine: {show: false}, axisLabel: {show: false}}
  ],
  yAxis: [
    {type: 'log', logBase: 10, position: 'left', min: yRange[0], max: yRange[1],
     axisLine: axisLineStyle,
     axisTick: {show: true, inside: true, length: 12, lineStyle: {color: '#000', width: 3}},
     splitLine: {show: false},
     axisLabel: {margin: 8, formatter: v => Math.abs(v - 1) < 1e-9 ? '{m|10}{s|0}' : (Math.abs(v - 0.1) < 1e-9 ? '{m|10}{s|\u22121}' : ''),
       rich: {m: {fontFamily: SERIF, fontSize: 60, lineHeight: 80, verticalAlign: 'middle', color: '#000'},
              s: {fontFamily: SERIF, fontSize: 40, lineHeight: 44, verticalAlign: 'top', color: '#000'}}}
    },
    {type: 'log', logBase: 10, position: 'right', min: yRange[0], max: yRange[1],
     axisLine: axisLineStyle,
     axisTick: {show: true, inside: true, length: 12, lineStyle: {color: '#000', width: 3}},
     splitLine: {show: false}, axisLabel: {show: false}}
  ],
  graphic: [
    {type: 'text', x: 755, y: 0, z: 10, silent: true,
     style: {text: '{mi|M}{sub|peak}{rm| : 10}{sup|11}{rm| \u2212 10}{sup|11.5}{rm|, }{mi|a}{sub|nf}{rm| < 1.3}',
             rich: mathRich(70, 46, 8), align: 'center', verticalAlign: 'top'}},
    {type: 'text', x: 755, y: 1222, z: 10, silent: true,
     style: {text: '{rm|(1 + }{mi|z}{rm|)/(1 + }{mi|z}{sub|peak}{rm|)}',
             rich: mathRich(70, 46, 12), align: 'center', verticalAlign: 'middle'}},
    {type: 'text', x: 52, y: 617, rotation: Math.PI / 2, z: 10, silent: true,
     style: {text: yLabelText, rich: mathRich(72, 48, 10), align: 'center', verticalAlign: 'middle'}},
    {type: 'text', x: 1304, y: 617, rotation: Math.PI / 2, z: 10, silent: true,
     style: {text: yLabelText, rich: mathRich(72, 48, 10), align: 'center', verticalAlign: 'middle'}},
    {type: 'text', x: 855, y: 292, z: 10, silent: true,
     style: {text: 'Young', fill: '#3a84c8', font: 'bold 84px "Liberation Sans", Arial, sans-serif',
             align: 'center', verticalAlign: 'middle'}}
  ],
  series: series
};

const chart = echarts.init(document.getElementById('c'), null, {renderer: 'canvas'});
chart.setOption(option);
</script>
</body></html>
